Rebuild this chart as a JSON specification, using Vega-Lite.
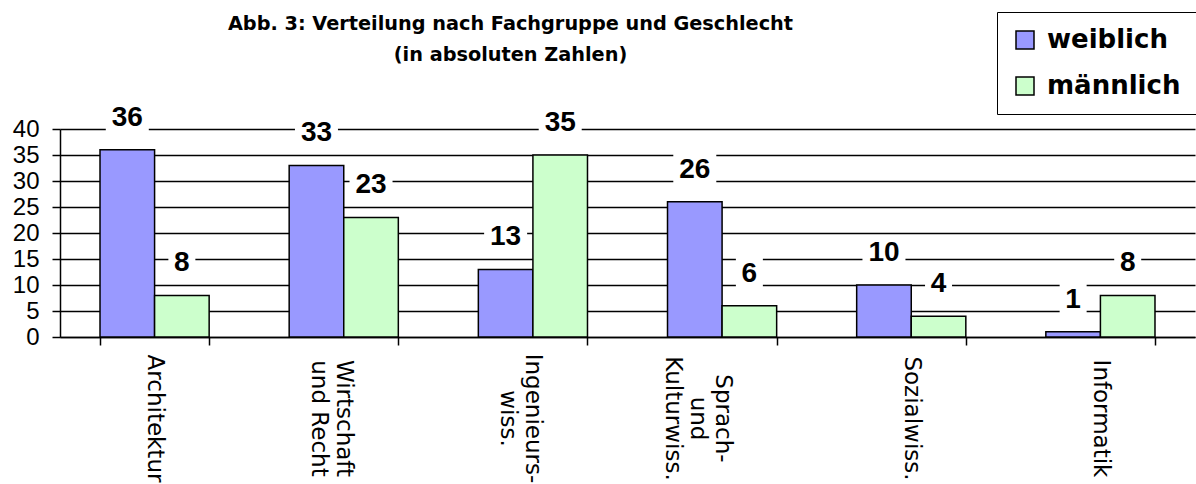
{
  "$schema": "https://vega.github.io/schema/vega-lite/v6.json",
  "width": 1135,
  "height": 208,
  "autosize": "none",
  "padding": {"left": 60, "top": 129, "right": 1, "bottom": 147},
  "background": "white",
  "title": {
    "text": ["Abb. 3: Verteilung nach Fachgruppe und Geschlecht", "(in absoluten Zahlen)"],
    "font": "DejaVu Sans",
    "fontSize": 19.3,
    "fontWeight": "bold",
    "color": "black",
    "anchor": "middle",
    "frame": "group",
    "dx": -117,
    "offset": -54,
    "lineHeight": 31
  },
  "config": {
    "view": {"stroke": null},
    "legend": {"labelFont": "DejaVu Sans"}
  },
  "data": {
    "values": [
      {"Fach": "Architektur", "Geschlecht": "weiblich", "Anzahl": 36},
      {"Fach": "Architektur", "Geschlecht": "männlich", "Anzahl": 8},
      {"Fach": "Wirtschaft|und Recht", "Geschlecht": "weiblich", "Anzahl": 33},
      {"Fach": "Wirtschaft|und Recht", "Geschlecht": "männlich", "Anzahl": 23},
      {"Fach": "Ingenieurs-|wiss.", "Geschlecht": "weiblich", "Anzahl": 13},
      {"Fach": "Ingenieurs-|wiss.", "Geschlecht": "männlich", "Anzahl": 35},
      {"Fach": "Sprach-|und|Kulturwiss.", "Geschlecht": "weiblich", "Anzahl": 26},
      {"Fach": "Sprach-|und|Kulturwiss.", "Geschlecht": "männlich", "Anzahl": 6},
      {"Fach": "Sozialwiss.", "Geschlecht": "weiblich", "Anzahl": 10},
      {"Fach": "Sozialwiss.", "Geschlecht": "männlich", "Anzahl": 4},
      {"Fach": "Informatik", "Geschlecht": "weiblich", "Anzahl": 1},
      {"Fach": "Informatik", "Geschlecht": "männlich", "Anzahl": 8}
    ]
  },
  "encoding": {
    "x": {
      "field": "Fach",
      "type": "nominal",
      "sort": null,
      "scale": {"paddingInner": 0.423, "paddingOuter": 0.2115},
      "axis": {
        "title": null,
        "labelAngle": 90,
        "labelAlign": "center",
        "labelBaseline": "middle",
        "labelPadding": 73,
        "labelExpr": "split(datum.label, '|')",
        "labelFont": "DejaVu Sans",
        "labelFontSize": 23,
        "labelLineHeight": 25,
        "labelColor": "black",
        "labelOverlap": false,
        "labelBound": false,
        "labelLimit": 0,
        "tickBand": "extent",
        "tickSize": 8,
        "tickColor": "black",
        "tickWidth": 1.5,
        "domainColor": "black",
        "domainWidth": 1.5,
        "grid": false
      }
    },
    "xOffset": {"field": "Geschlecht", "type": "nominal", "sort": ["weiblich", "männlich"]},
    "y": {
      "field": "Anzahl",
      "type": "quantitative",
      "scale": {"domain": [0, 40], "nice": false},
      "axis": {
        "title": null,
        "values": [0, 5, 10, 15, 20, 25, 30, 35, 40],
        "labelFont": "Liberation Sans",
        "labelFontSize": 24,
        "labelColor": "black",
        "labelPadding": 13,
        "tickSize": 8,
        "tickColor": "black",
        "tickWidth": 1.5,
        "domainColor": "black",
        "domainWidth": 1.5,
        "grid": true,
        "gridColor": "black",
        "gridWidth": 1.3,
        "gridOpacity": 1
      }
    }
  },
  "layer": [
    {
      "mark": {"type": "bar", "stroke": "black", "strokeWidth": 1.5},
      "encoding": {
        "fill": {
          "field": "Geschlecht",
          "type": "nominal",
          "sort": ["weiblich", "männlich"],
          "scale": {"domain": ["weiblich", "männlich"], "range": ["#9999ff", "#ccffcc"]},
          "legend": {
            "title": null,
            "orient": "none",
            "legendX": 937,
            "legendY": -117,
            "direction": "vertical",
            "strokeColor": "black",
            "fillColor": "white",
            "padding": 15,
            "symbolType": "square",
            "symbolSize": 324,
            "symbolStrokeColor": "black",
            "symbolStrokeWidth": 1.5,
            "symbolOpacity": 1,
            "labelFont": "DejaVu Sans",
            "labelFontSize": 26,
            "labelFontWeight": "bold",
            "labelColor": "black",
            "labelOffset": 9,
            "rowPadding": 20
          }
        }
      }
    },
    {
      "mark": {"type": "point", "filled": true, "fill": "white", "opacity": 1, "strokeWidth": 0, "size": 400},
      "encoding": {
        "shape": {
          "condition": {"test": "datum.Anzahl < 10", "value": "M -1.35 -4.8 H 1.35 V -1.75 H -1.35 Z"},
          "value": "M -2.15 -4.8 H 2.15 V -1.75 H -2.15 Z"
        }
      }
    },
    {
      "mark": {"type": "text", "font": "Liberation Sans", "fontSize": 28, "fontWeight": "bold", "color": "black", "baseline": "middle", "dy": -32},
      "encoding": {"text": {"field": "Anzahl", "type": "quantitative"}}
    }
  ]
}
